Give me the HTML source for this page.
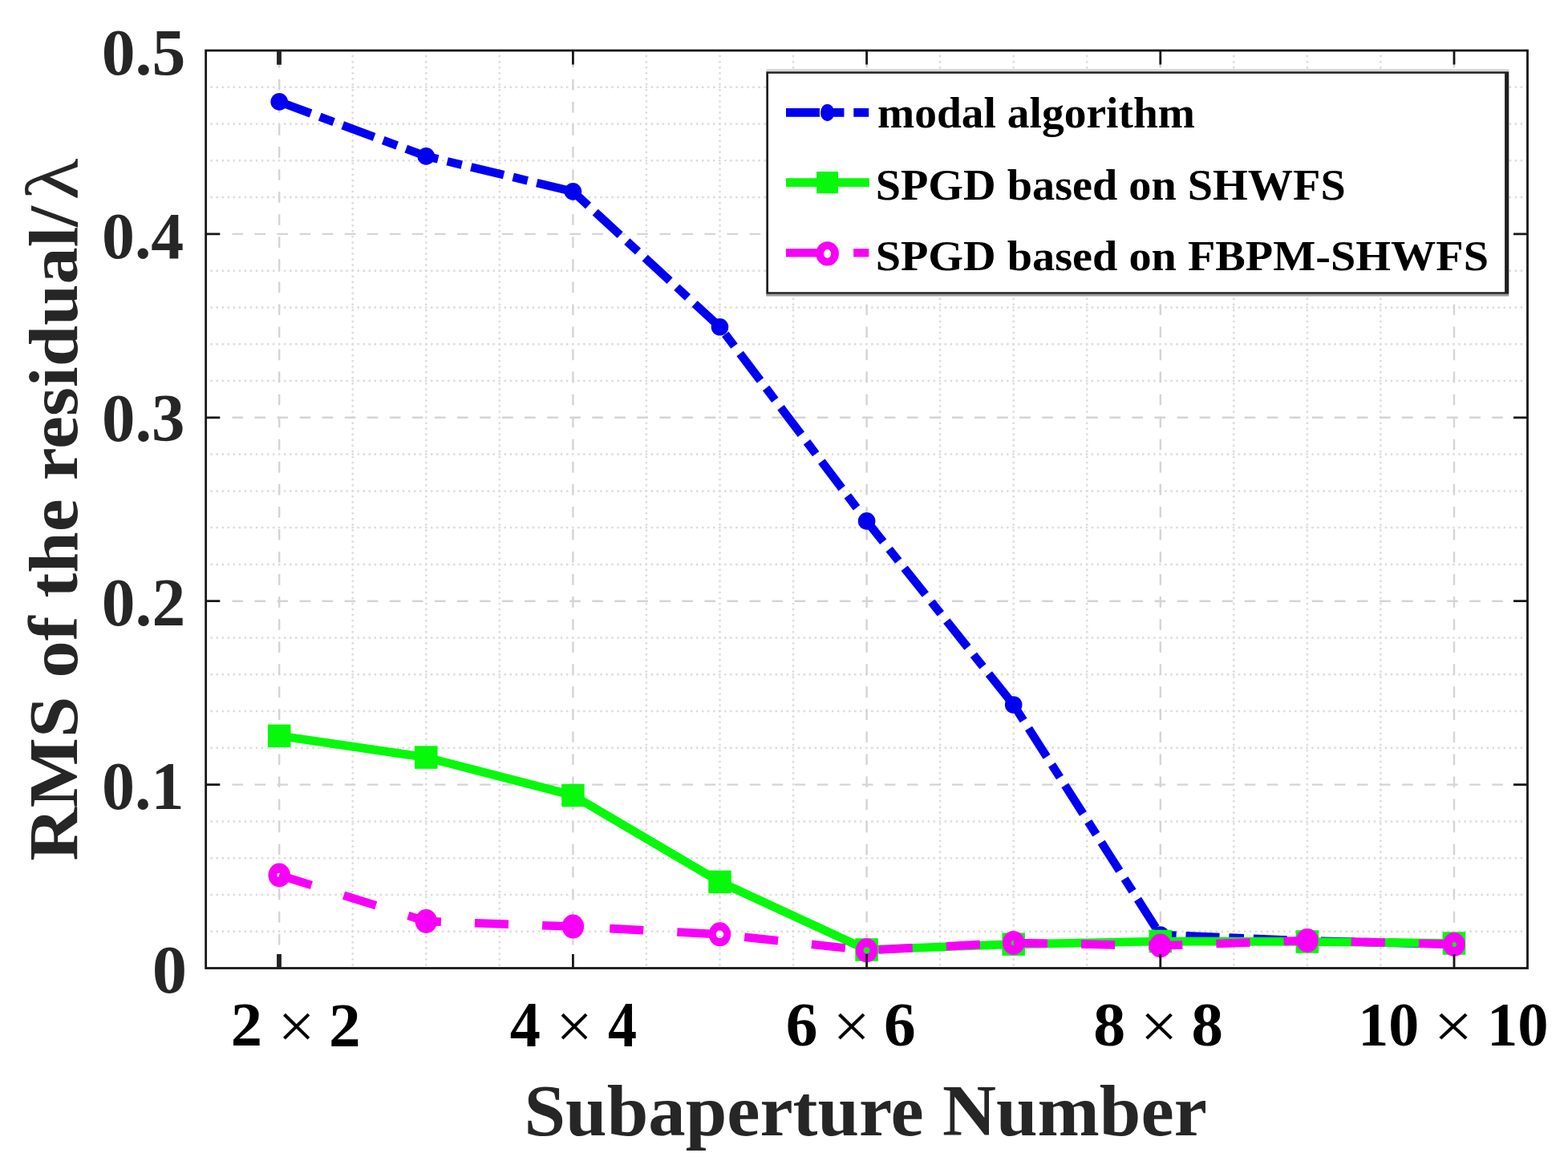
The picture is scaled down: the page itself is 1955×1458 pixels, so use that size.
<!DOCTYPE html><html><head><meta charset="utf-8"><style>html,body{margin:0;padding:0;background:#fff;}svg{display:block;}</style></head><body>
<svg width="1955" height="1458" viewBox="0 0 1955 1458">
<rect width="1955" height="1458" fill="#fff"/>
<style>.mi{stroke:#dcdcdc;stroke-width:2.5;stroke-dasharray:2.5 4.54;stroke-dashoffset:1.2;} .ma{stroke:#d4d4d4;stroke-width:2.4;stroke-dasharray:13.6 14.45;}</style>
<g><line x1="439.7" y1="63.0" x2="439.7" y2="1207.5" class="mi"/><line x1="531.3" y1="63.0" x2="531.3" y2="1207.5" class="mi"/><line x1="622.8" y1="63.0" x2="622.8" y2="1207.5" class="mi"/><line x1="805.9" y1="63.0" x2="805.9" y2="1207.5" class="mi"/><line x1="897.5" y1="63.0" x2="897.5" y2="1207.5" class="mi"/><line x1="989.0" y1="63.0" x2="989.0" y2="1207.5" class="mi"/><line x1="1172.1" y1="63.0" x2="1172.1" y2="1207.5" class="mi"/><line x1="1263.7" y1="63.0" x2="1263.7" y2="1207.5" class="mi"/><line x1="1355.2" y1="63.0" x2="1355.2" y2="1207.5" class="mi"/><line x1="1538.3" y1="63.0" x2="1538.3" y2="1207.5" class="mi"/><line x1="1629.9" y1="63.0" x2="1629.9" y2="1207.5" class="mi"/><line x1="1721.4" y1="63.0" x2="1721.4" y2="1207.5" class="mi"/><line x1="256.6" y1="1161.7" x2="1904.5" y2="1161.7" class="mi"/><line x1="256.6" y1="1115.9" x2="1904.5" y2="1115.9" class="mi"/><line x1="256.6" y1="1070.2" x2="1904.5" y2="1070.2" class="mi"/><line x1="256.6" y1="1024.4" x2="1904.5" y2="1024.4" class="mi"/><line x1="256.6" y1="932.8" x2="1904.5" y2="932.8" class="mi"/><line x1="256.6" y1="887.0" x2="1904.5" y2="887.0" class="mi"/><line x1="256.6" y1="841.3" x2="1904.5" y2="841.3" class="mi"/><line x1="256.6" y1="795.5" x2="1904.5" y2="795.5" class="mi"/><line x1="256.6" y1="703.9" x2="1904.5" y2="703.9" class="mi"/><line x1="256.6" y1="658.1" x2="1904.5" y2="658.1" class="mi"/><line x1="256.6" y1="612.4" x2="1904.5" y2="612.4" class="mi"/><line x1="256.6" y1="566.6" x2="1904.5" y2="566.6" class="mi"/><line x1="256.6" y1="475.0" x2="1904.5" y2="475.0" class="mi"/><line x1="256.6" y1="429.2" x2="1904.5" y2="429.2" class="mi"/><line x1="256.6" y1="383.5" x2="1904.5" y2="383.5" class="mi"/><line x1="256.6" y1="337.7" x2="1904.5" y2="337.7" class="mi"/><line x1="256.6" y1="246.1" x2="1904.5" y2="246.1" class="mi"/><line x1="256.6" y1="200.3" x2="1904.5" y2="200.3" class="mi"/><line x1="256.6" y1="154.6" x2="1904.5" y2="154.6" class="mi"/><line x1="256.6" y1="108.8" x2="1904.5" y2="108.8" class="mi"/><line x1="348.2" y1="63.0" x2="348.2" y2="1207.5" class="ma" stroke-dashoffset="-7.9"/><line x1="714.4" y1="63.0" x2="714.4" y2="1207.5" class="ma" stroke-dashoffset="-7.9"/><line x1="1080.6" y1="63.0" x2="1080.6" y2="1207.5" class="ma" stroke-dashoffset="-7.9"/><line x1="1446.8" y1="63.0" x2="1446.8" y2="1207.5" class="ma" stroke-dashoffset="-7.9"/><line x1="1813.0" y1="63.0" x2="1813.0" y2="1207.5" class="ma" stroke-dashoffset="-7.9"/><line x1="256.6" y1="978.6" x2="1904.5" y2="978.6" class="ma" stroke-dashoffset="-4.8"/><line x1="256.6" y1="749.7" x2="1904.5" y2="749.7" class="ma" stroke-dashoffset="-4.8"/><line x1="256.6" y1="520.8" x2="1904.5" y2="520.8" class="ma" stroke-dashoffset="-4.8"/><line x1="256.6" y1="291.9" x2="1904.5" y2="291.9" class="ma" stroke-dashoffset="-4.8"/></g>
<polyline points="348.2,126.9 531.3,194.9 714.4,238.9 897.5,407.8 1080.6,649.9 1263.7,879.0 1446.8,1166.0 1629.9,1173.5 1813.0,1177.5" fill="none" stroke="#0000f0" stroke-width="10.5" stroke-dasharray="42 11.85 18.6 11.85" stroke-linejoin="round"/>
<circle cx="348.2" cy="126.9" r="10.8" fill="#0000f0"/>
<circle cx="531.3" cy="194.9" r="10.8" fill="#0000f0"/>
<circle cx="714.4" cy="238.9" r="10.8" fill="#0000f0"/>
<circle cx="897.5" cy="407.8" r="10.8" fill="#0000f0"/>
<circle cx="1080.6" cy="649.9" r="10.8" fill="#0000f0"/>
<circle cx="1263.7" cy="879.0" r="10.8" fill="#0000f0"/>
<circle cx="1446.8" cy="1166.0" r="10.8" fill="#0000f0"/>
<circle cx="1629.9" cy="1173.5" r="10.8" fill="#0000f0"/>
<circle cx="1813.0" cy="1177.5" r="10.8" fill="#0000f0"/>
<polyline points="348.2,917.8 531.3,944.6 714.4,992.0 897.5,1099.9 1080.6,1184.5 1263.7,1177.7 1446.8,1174.0 1629.9,1174.5 1813.0,1176.5" fill="none" stroke="#06f80a" stroke-width="10.7" stroke-linejoin="round"/>
<rect x="333.95" y="903.55" width="28.5" height="28.5" fill="#06f80a"/>
<rect x="517.04" y="930.35" width="28.5" height="28.5" fill="#06f80a"/>
<rect x="700.14" y="977.75" width="28.5" height="28.5" fill="#06f80a"/>
<rect x="883.23" y="1085.65" width="28.5" height="28.5" fill="#06f80a"/>
<rect x="1066.32" y="1170.25" width="28.5" height="28.5" fill="#06f80a"/>
<rect x="1249.42" y="1163.45" width="28.5" height="28.5" fill="#06f80a"/>
<rect x="1432.51" y="1159.75" width="28.5" height="28.5" fill="#06f80a"/>
<rect x="1615.61" y="1160.25" width="28.5" height="28.5" fill="#06f80a"/>
<rect x="1798.70" y="1162.25" width="28.5" height="28.5" fill="#06f80a"/>
<polyline points="348.2,1091.5 531.3,1149.0 714.4,1155.6 897.5,1165.3 1080.6,1185.3 1263.7,1175.9 1446.8,1179.5 1629.9,1173.0 1813.0,1177.9" fill="none" stroke="#f800f8" stroke-width="10.5" stroke-dasharray="42.1 42.1" stroke-linejoin="round"/>
<path d="M334.45 1091.50a13.75 15.0 0 1 0 27.5 0a13.75 15.0 0 1 0 -27.5 0ZM345.40 1091.50a2.8 2.8 0 1 1 5.6 0a2.8 2.8 0 1 1 -5.6 0Z" fill="#f800f8" fill-rule="evenodd"/>
<ellipse cx="531.3" cy="1149.0" rx="13.75" ry="15.0" fill="#f800f8"/>
<ellipse cx="714.4" cy="1155.6" rx="13.75" ry="15.0" fill="#f800f8"/>
<path d="M883.73 1165.30a13.75 15.0 0 1 0 27.5 0a13.75 15.0 0 1 0 -27.5 0ZM892.68 1165.30a4.8 4.8 0 1 1 9.6 0a4.8 4.8 0 1 1 -9.6 0Z" fill="#f800f8" fill-rule="evenodd"/>
<path d="M1066.82 1185.30a13.75 15.0 0 1 0 27.5 0a13.75 15.0 0 1 0 -27.5 0ZM1076.57 1185.30a4.0 4.0 0 1 1 8.0 0a4.0 4.0 0 1 1 -8.0 0Z" fill="#f800f8" fill-rule="evenodd"/>
<path d="M1249.92 1175.90a13.75 15.0 0 1 0 27.5 0a13.75 15.0 0 1 0 -27.5 0ZM1260.67 1175.90a3.0 3.0 0 1 1 6.0 0a3.0 3.0 0 1 1 -6.0 0Z" fill="#f800f8" fill-rule="evenodd"/>
<ellipse cx="1446.8" cy="1179.5" rx="13.75" ry="15.0" fill="#f800f8"/>
<ellipse cx="1629.9" cy="1173.0" rx="13.75" ry="15.0" fill="#f800f8"/>
<path d="M1799.20 1177.90a13.75 15.0 0 1 0 27.5 0a13.75 15.0 0 1 0 -27.5 0ZM1809.95 1177.90a3.0 3.0 0 1 1 6.0 0a3.0 3.0 0 1 1 -6.0 0Z" fill="#f800f8" fill-rule="evenodd"/>
<rect x="256.65" y="63.0" width="1647.85" height="1144.5" fill="none" stroke="#171717" stroke-width="2.8"/>
<path d="M714.4 1207.5V1190.0M714.4 63.0V80.5M1080.6 1207.5V1190.0M1080.6 63.0V80.5M1446.8 1207.5V1190.0M1446.8 63.0V80.5M1813.0 1207.5V1190.0M1813.0 63.0V80.5M256.65 978.6H274.15M1904.5 978.6H1887.0M256.65 749.7H274.15M1904.5 749.7H1887.0M256.65 520.8H274.15M1904.5 520.8H1887.0M256.65 291.9H274.15M1904.5 291.9H1887.0" stroke="#171717" stroke-width="2.8" fill="none"/>
<path d="M348 1207.5V1190.0M348 63.0V80.8" stroke="#222" stroke-width="5.8" fill="none"/>
<rect x="955.3" y="86.2" width="926.0" height="2.6" fill="#d2d2d2"/>
<rect x="955.3" y="366.7" width="926.0" height="2.8" fill="#9c9c9c"/>
<rect x="955.3" y="89.3" width="926.0" height="277.4" fill="#fff"/>
<path d="M955.3 89.3H1881.3V366.7H955.3Z M958 91.7V364.2H1876.1V91.7Z" fill="#1e1e1e" fill-rule="evenodd"/>
<line x1="980" y1="140.4" x2="1083.2" y2="140.4" stroke="#0000f0" stroke-width="10.6" stroke-dasharray="42 11.85 18.6 11.85"/>
<ellipse cx="1031.6" cy="140.4" rx="8.6" ry="10.75" fill="#0000f0"/>
<line x1="980" y1="227.6" x2="1083.8" y2="227.6" stroke="#06f80a" stroke-width="10.7"/>
<rect x="1018.2" y="214.0" width="26.8" height="27.2" fill="#06f80a"/>
<line x1="980" y1="315.3" x2="1083.3" y2="315.3" stroke="#f800f8" stroke-width="10.2" stroke-dasharray="42.1 42.1"/>
<ellipse cx="1031.6" cy="316.4" rx="9.4" ry="10.3" fill="none" stroke="#f800f8" stroke-width="9.8"/>
<g id="yt0.5" transform="matrix(1.00789 0 0 0.99696 -4.230 1.673)"><text font-family="Liberation Serif, serif" font-weight="bold" font-size="83" fill="#262626" x="130" y="92.0">0.5</text></g>
<g id="yt0.4" transform="matrix(0.98548 0 0 1.00143 -1.069 0.590)"><text font-family="Liberation Serif, serif" font-weight="bold" font-size="83" fill="#262626" x="130" y="320.9">0.4</text></g>
<g id="yt0.3" transform="matrix(0.99863 0 0 1.02866 -2.849 -15.169)"><text font-family="Liberation Serif, serif" font-weight="bold" font-size="83" fill="#262626" x="130" y="549.8000000000001">0.3</text></g>
<g id="yt0.2" transform="matrix(1.00584 0 0 1.02849 -3.950 -20.793)"><text font-family="Liberation Serif, serif" font-weight="bold" font-size="83" fill="#262626" x="130" y="778.7">0.2</text></g>
<g id="yt0.1" transform="matrix(0.98796 0 0 1.01180 -1.346 -10.844)"><text font-family="Liberation Serif, serif" font-weight="bold" font-size="83" fill="#262626" x="130" y="1007.6">0.1</text></g>
<g id="yt0" transform="matrix(1.04445 0 0 1.02466 53.955 -29.341)"><text font-family="Liberation Serif, serif" font-weight="bold" font-size="83" fill="#262626" x="130" y="1236.5">0</text></g>
<g id="xt2a" transform="matrix(1.00677 0 0 1.01092 -5.092 -14.237)"><text font-family="Liberation Serif, serif" font-weight="bold" font-size="78" fill="#000" x="290.9" y="1304">2</text></g>
<g id="xt2m" transform="matrix(1.05065 0 0 1.03922 -24.565 -48.516)"><text font-family="Liberation Serif, serif" font-size="78" fill="#000" x="353.1" y="1304">×</text></g>
<g id="xt2b" transform="matrix(1.01561 0 0 1.01052 -9.751 -12.709)"><text font-family="Liberation Serif, serif" font-weight="bold" font-size="78" fill="#000" x="413.2" y="1304">2</text></g>
<g id="xt4a" transform="matrix(0.97873 0 0 1.02444 12.486 -30.888)"><text font-family="Liberation Serif, serif" font-weight="bold" font-size="78" fill="#000" x="636.7" y="1304">4</text></g>
<g id="xt4m" transform="matrix(1.03612 0 0 1.03142 -31.791 -38.441)"><text font-family="Liberation Serif, serif" font-size="78" fill="#000" x="699.7" y="1304">×</text></g>
<g id="xt4b" transform="matrix(0.92359 0 0 1.02444 57.071 -30.888)"><text font-family="Liberation Serif, serif" font-weight="bold" font-size="78" fill="#000" x="759.0" y="1304">4</text></g>
<g id="xt6a" transform="matrix(1.01683 0 0 0.99803 -19.024 2.891)"><text font-family="Liberation Serif, serif" font-weight="bold" font-size="78" fill="#000" x="982.2" y="1304">6</text></g>
<g id="xt6m" transform="matrix(1.05263 0 0 1.03204 -61.652 -39.164)"><text font-family="Liberation Serif, serif" font-size="78" fill="#000" x="1045.1" y="1304">×</text></g>
<g id="xt6b" transform="matrix(1.01832 0 0 0.99784 -22.934 3.153)"><text font-family="Liberation Serif, serif" font-weight="bold" font-size="78" fill="#000" x="1104.8" y="1304">6</text></g>
<g id="xt8a" transform="matrix(1.02500 0 0 0.99612 -36.708 5.327)"><text font-family="Liberation Serif, serif" font-weight="bold" font-size="78" fill="#000" x="1365.8" y="1304">8</text></g>
<g id="xt8m" transform="matrix(1.05848 0 0 1.03640 -90.376 -44.878)"><text font-family="Liberation Serif, serif" font-size="78" fill="#000" x="1428.7" y="1304">×</text></g>
<g id="xt8b" transform="matrix(1.01165 0 0 0.99631 -19.851 5.078)"><text font-family="Liberation Serif, serif" font-weight="bold" font-size="78" fill="#000" x="1488.0" y="1304">8</text></g>
<g id="xt10a" transform="matrix(0.97597 0 0 0.99995 34.729 0.480)"><text font-family="Liberation Serif, serif" font-weight="bold" font-size="78" fill="#000" x="1699.3" y="1304">10</text></g>
<g id="xt10m" transform="matrix(1.11011 0 0 1.03576 -204.726 -44.078)"><text font-family="Liberation Serif, serif" font-size="78" fill="#000" x="1794.6" y="1304">×</text></g>
<g id="xt10b" transform="matrix(0.98262 0 0 0.99956 26.382 0.953)"><text font-family="Liberation Serif, serif" font-weight="bold" font-size="78" fill="#000" x="1860.0" y="1304">10</text></g>
<g id="xl" transform="matrix(0.97661 0 0 0.94653 10.866 76.176)"><text font-family="Liberation Serif, serif" font-weight="bold" font-size="95" fill="#262626" x="658" y="1415.7">Subaperture Number</text></g>
<g id="yl" transform="matrix(0.92711 0 0 0.99346 6.436 8.879)"><text font-family="Liberation Serif, serif" font-weight="bold" font-size="93" fill="#262626" transform="translate(97 1072) rotate(-90)">RMS of the residual/</text></g>
<g id="ylam" transform="matrix(0.99166 0 0 1.15404 1.224 -39.077)"><text font-family="Liberation Serif, serif" font-size="93" fill="#262626" transform="translate(97 250) rotate(-90)">λ</text></g>
<g id="lg1" transform="matrix(1.00875 0 0 0.98071 -10.537 2.349)"><text font-family="Liberation Serif, serif" font-weight="bold" font-size="55" fill="#000" x="1095" y="159.5">modal algorithm</text></g>
<g id="lg2" transform="matrix(1.02283 0 0 1.00748 -28.313 -1.047)"><text font-family="Liberation Serif, serif" font-weight="bold" font-size="55" fill="#000" x="1095" y="248">SPGD based on SHWFS</text></g>
<g id="lg3" transform="matrix(1.02305 0 0 0.97609 -28.565 8.146)"><text font-family="Liberation Serif, serif" font-weight="bold" font-size="55" fill="#000" x="1095" y="336.5">SPGD based on FBPM-SHWFS</text></g>
</svg></body></html>
